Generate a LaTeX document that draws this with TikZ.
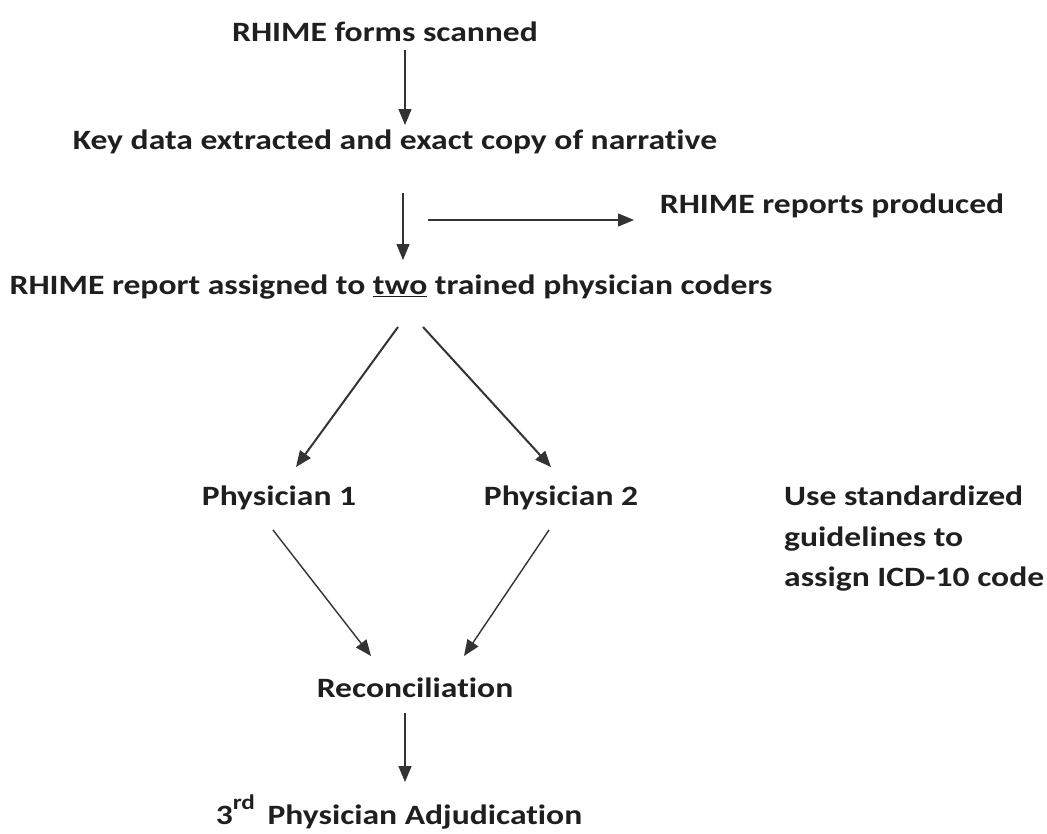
\documentclass[tikz,border=0pt]{standalone}
\usepackage{fontspec}
\setmainfont{Carlito}[Ligatures=NoCommon, FakeStretch=1.2]
\usetikzlibrary{arrows.meta}
\begin{document}
\begin{tikzpicture}[x=1pt,y=-1pt,
  lbl/.style={font=\bfseries\fontsize{28}{33}\selectfont, text=black!88, inner sep=0pt},
  conn/.style={draw=black!80, line width=1.4pt, -{Triangle[length=16pt,width=13pt]}},
  connthick/.style={conn, line width=2pt}]
\useasboundingbox (0,0) rectangle (1047,833);
\node[lbl] (scan) at (385,32) {RHIME forms scanned};
\node[lbl] (key) at (395,142) {Key data extracted and exact copy of narrative};
\node[lbl] (prod) at (832,206) {RHIME reports produced};
\node[lbl] (assign) at (391,287) {RHIME report assigned to \underline{two} trained physician coders};
\node[lbl] (p1) at (279,498) {Physician 1};
\node[lbl] (p2) at (561,498) {Physician 2};
\node[lbl, align=left, anchor=north west, font=\bfseries\fontsize{28}{40.5}\selectfont] (use) at (784,486) {Use standardized\\guidelines to\\assign ICD-10 code};
\node[lbl] (rec) at (415,688) {Reconciliation};
\node[lbl] (adj) at (399,812) {3\raisebox{15pt}{\fontsize{21}{21}\selectfont rd}\hspace{0.45em}Physician Adjudication};

\coordinate (a1s) at (405,50);  \coordinate (a1e) at (405,125);
\coordinate (a2s) at (403,193); \coordinate (a2e) at (403,260);
\coordinate (hs) at (428,220);  \coordinate (he) at (634,220);
\coordinate (d1s) at (398,327); \coordinate (d1e) at (296,467);
\coordinate (d2s) at (423,327); \coordinate (d2e) at (551,467);
\coordinate (e1s) at (273,530); \coordinate (e1e) at (371,656);
\coordinate (e2s) at (549,530); \coordinate (e2e) at (464,656);
\coordinate (a3s) at (405,713); \coordinate (a3e) at (405,782);

\draw[conn] (a1s) -- (a1e);
\draw[conn] (a2s) -- (a2e);
\draw[conn] (hs) -- (he);
\draw[connthick] (d1s) -- (d1e);
\draw[connthick] (d2s) -- (d2e);
\draw[conn] (e1s) -- (e1e);
\draw[conn] (e2s) -- (e2e);
\draw[conn] (a3s) -- (a3e);
\end{tikzpicture}
\end{document}
